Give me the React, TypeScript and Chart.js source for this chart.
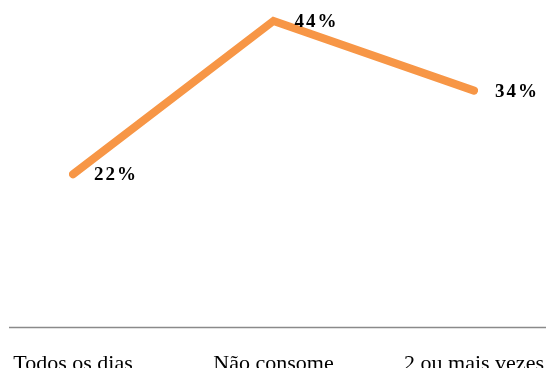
import React, { useEffect, useRef } from "react";
import { Chart, registerables } from "chart.js";

Chart.register(...registerables);

const categories = ["Todos os dias", "Não consome", "2 ou mais vezes"];
const values = [22, 44, 34];
const valueLabels = ["22%", "44%", "34%"];

const LINE_COLOR = "#F79646";
const SERIF = "'Liberation Serif', 'Times New Roman', serif";

const axisLinePlugin = {
  id: "axisLine",
  beforeDatasetsDraw(chart: any) {
    const { ctx } = chart;
    const y = chart.scales.y.getPixelForValue(0);
    ctx.save();
    ctx.strokeStyle = "#8a8a8a";
    ctx.lineWidth = 1.5;
    ctx.beginPath();
    ctx.moveTo(9, y);
    ctx.lineTo(chart.width, y);
    ctx.stroke();
    ctx.restore();
  },
};

const valueLabelPlugin = {
  id: "valueLabels",
  afterDatasetsDraw(chart: any) {
    const { ctx } = chart;
    const meta = chart.getDatasetMeta(0);
    ctx.save();
    ctx.fillStyle = "#000";
    ctx.font = `bold 19px ${SERIF}`;
    try {
      (ctx as any).letterSpacing = "2px";
    } catch (e) {}
    ctx.textAlign = "left";
    ctx.textBaseline = "middle";
    meta.data.forEach((pt: any, i: number) => {
      ctx.fillText(valueLabels[i], pt.x + 21, pt.y + 1);
    });
    ctx.restore();
  },
};

export default function App() {
  const ref = useRef<HTMLCanvasElement>(null);
  useEffect(() => {
    if (!ref.current) return;
    const chart = new Chart(ref.current, {
      type: "line",
      data: {
        labels: categories,
        datasets: [
          {
            data: values,
            borderColor: LINE_COLOR,
            backgroundColor: LINE_COLOR,
            borderWidth: 8,
            borderCapStyle: "round",
            borderJoinStyle: "miter",
            pointRadius: 0,
            pointHoverRadius: 0,
            tension: 0,
          },
        ],
      },
      options: {
        responsive: false,
        animation: false,
        events: [],
        layout: { padding: { left: 73, right: 72, top: 0, bottom: 0 } },
        plugins: { legend: { display: false }, tooltip: { enabled: false } },
        scales: {
          x: {
            offset: false,
            border: { display: false },
            grid: { display: false, drawTicks: false },
            afterFit(scale: any) {
              scale.paddingLeft = 0;
              scale.paddingRight = 0;
            },
            ticks: {
              autoSkip: false,
              maxRotation: 0,
              minRotation: 0,
              padding: 23,
              color: "#000",
              font: { family: SERIF, size: 22 },
            },
          },
          y: {
            display: false,
            min: 0,
            max: 47,
          },
        },
      },
      plugins: [axisLinePlugin, valueLabelPlugin],
    });
    return () => chart.destroy();
  }, []);
  return (
    <div
      style={{
        position: "fixed",
        left: 0,
        top: 0,
        width: 546,
        height: 368,
        overflow: "hidden",
        background: "#fff",
      }}
    >
      <canvas ref={ref} width={546} height={400} style={{ display: "block" }} />
    </div>
  );
}
